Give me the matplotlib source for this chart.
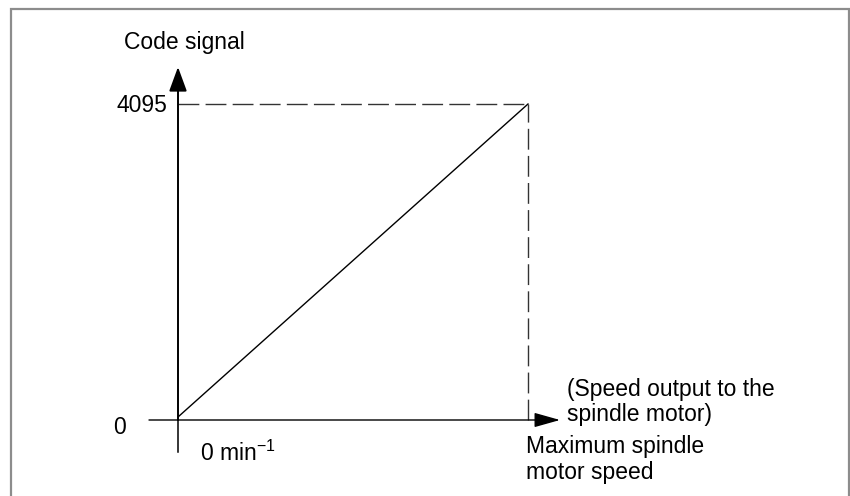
import matplotlib.pyplot as plt
from matplotlib.patches import Rectangle

plt.rcParams['font.family'] = ['Liberation Sans', 'DejaVu Sans']

# spindle speed as percent of maximum, and the matching code signal
speed_pct = [0, 100]
code_signal = [0, 4095]
y_ticks = [0, 4095]
y_labels = ['0', '4095']

fig = plt.figure(figsize=(8.5, 4.96), dpi=100)
W, H = 850, 496

# place the data axes so that origin and max land where the diagram wants them
x0, x1 = 178, 528
y0, y1 = 420, 104
ax = fig.add_axes([x0 / W, 1 - y0 / H, (x1 - x0) / W, (y0 - y1) / H])
ax.set_xlim(0, 100)
ax.set_ylim(0, 4095)
ax.axis('off')

# outer frame (bottom runs off the image)
fig.patches.append(Rectangle((11 / W, -10 / H), 838 / W, 497 / H, transform=fig.transFigure,
                             fill=False, edgecolor='#8c8c8c', linewidth=1.6))

px = 100 / (x1 - x0)          # data units per pixel, x
py = 4095 / (y0 - y1)         # data units per pixel, y

# characteristic line (starts a hair above the x axis, like the original)
ax.plot(speed_pct, [code_signal[0] + 3 * py, code_signal[1]], color='black',
        linewidth=1.0, clip_on=False)

# dashed guides at max
ax.plot([0, speed_pct[1]], [code_signal[1]] * 2, color='#333333', linewidth=1.0,
        dashes=(15, 4.5), clip_on=False)
ax.plot([speed_pct[1]] * 2, [0, code_signal[1]], color='#333333', linewidth=1.0,
        dashes=(15, 4.5), clip_on=False)

# axes with arrows
ax.plot([0, 0], [-32 * py, 0], color='black', linewidth=1.1, clip_on=False)
ax.annotate('', xy=(0, 4095 + 37 * py), xytext=(0, 0), annotation_clip=False,
            arrowprops=dict(arrowstyle='-|>,head_length=1.5,head_width=0.55',
                            color='black', linewidth=1.4, shrinkA=0, shrinkB=0))
ax.annotate('', xy=(100 + 32 * px, 0), xytext=(-29 * px, 0), annotation_clip=False,
            arrowprops=dict(arrowstyle='-|>,head_length=1.6,head_width=0.45',
                            color='black', linewidth=1.0, shrinkA=0, shrinkB=0))

fs = 16.5
ax.text(6 * px, 4095 + 61 * py, 'Code signal', fontsize=fs, va='center', ha='center')
ax.text(-11 * px, y_ticks[1] - 2 * py, y_labels[1], fontsize=fs, va='center', ha='right')
ax.text(-59 * px, y_ticks[0] - 8 * py, y_labels[0], fontsize=fs, va='center', ha='center')
ax.text(22 * px, -33 * py, '0 min$^{\\mathregular{\u22121}}$', fontsize=fs, va='center', ha='left')
ax.text(99.5, -39.5 * py, 'Maximum spindle\nmotor speed', fontsize=fs, va='center', ha='left',
        linespacing=1.12)
ax.text(100 + 39 * px, 18 * py, '(Speed output to the\nspindle motor)', fontsize=fs,
        va='center', ha='left', linespacing=1.12)

fig.savefig('out.png', dpi=100)
